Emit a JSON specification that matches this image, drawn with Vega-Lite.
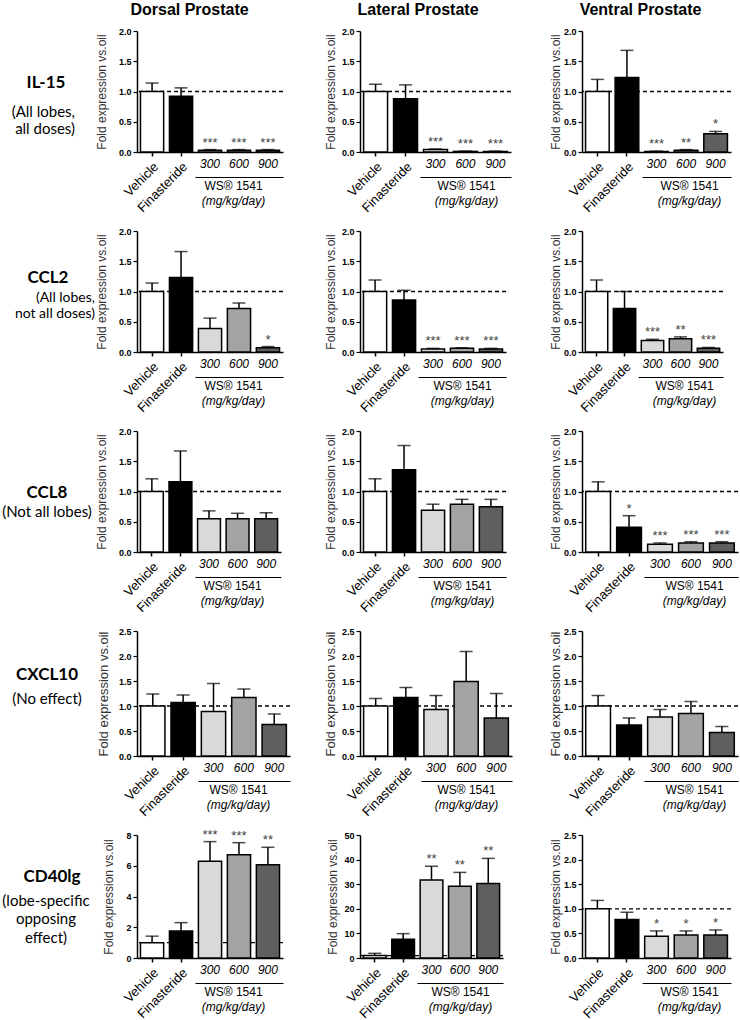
{
"$schema":"https://vega.github.io/schema/vega-lite/v6.json",
"padding":{"left":2,"top":2,"right":2,"bottom":2},
"config":{"view":{"stroke":null},"axis":{"labelFont":"Liberation Sans","titleFont":"Liberation Sans","labelColor":"black","domainColor":"black","tickColor":"black","grid":false},"text":{"font":"Liberation Sans"}},
"datasets":{
"ref":[{"v":1}],
"labels":[
{"gene":"IL-15","desc":"(All lobes,\nall doses)"},
{"gene":"CCL2","desc":"(All lobes,\nnot all doses)"},
{"gene":"CCL8","desc":"(Not all lobes)"},
{"gene":"CXCL10","desc":"(No effect)"},
{"gene":"CD40lg","desc":"(lobe-specific\nopposing\neffect)"}],
"d":[
{"gene":"IL-15","lobe":"Dorsal","group":"Vehicle","mean":1.0,"hi":1.14,"sig":""},
{"gene":"IL-15","lobe":"Dorsal","group":"Finasteride","mean":0.92,"hi":1.06,"sig":""},
{"gene":"IL-15","lobe":"Dorsal","group":"300","mean":0.03,"hi":0.04,"sig":"***"},
{"gene":"IL-15","lobe":"Dorsal","group":"600","mean":0.03,"hi":0.04,"sig":"***"},
{"gene":"IL-15","lobe":"Dorsal","group":"900","mean":0.03,"hi":0.04,"sig":"***"},
{"gene":"IL-15","lobe":"Lateral","group":"Vehicle","mean":1.0,"hi":1.12,"sig":""},
{"gene":"IL-15","lobe":"Lateral","group":"Finasteride","mean":0.88,"hi":1.11,"sig":""},
{"gene":"IL-15","lobe":"Lateral","group":"300","mean":0.04,"hi":0.05,"sig":"***"},
{"gene":"IL-15","lobe":"Lateral","group":"600","mean":0.01,"hi":0.015,"sig":"***"},
{"gene":"IL-15","lobe":"Lateral","group":"900","mean":0.01,"hi":0.015,"sig":"***"},
{"gene":"IL-15","lobe":"Ventral","group":"Vehicle","mean":1.0,"hi":1.2,"sig":""},
{"gene":"IL-15","lobe":"Ventral","group":"Finasteride","mean":1.23,"hi":1.68,"sig":""},
{"gene":"IL-15","lobe":"Ventral","group":"300","mean":0.01,"hi":0.015,"sig":"***"},
{"gene":"IL-15","lobe":"Ventral","group":"600","mean":0.03,"hi":0.04,"sig":"**"},
{"gene":"IL-15","lobe":"Ventral","group":"900","mean":0.3,"hi":0.34,"sig":"*"},
{"gene":"CCL2","lobe":"Dorsal","group":"Vehicle","mean":1.0,"hi":1.14,"sig":""},
{"gene":"CCL2","lobe":"Dorsal","group":"Finasteride","mean":1.23,"hi":1.66,"sig":""},
{"gene":"CCL2","lobe":"Dorsal","group":"300","mean":0.39,"hi":0.56,"sig":""},
{"gene":"CCL2","lobe":"Dorsal","group":"600","mean":0.72,"hi":0.81,"sig":""},
{"gene":"CCL2","lobe":"Dorsal","group":"900","mean":0.07,"hi":0.09,"sig":"*"},
{"gene":"CCL2","lobe":"Lateral","group":"Vehicle","mean":1.0,"hi":1.19,"sig":""},
{"gene":"CCL2","lobe":"Lateral","group":"Finasteride","mean":0.86,"hi":1.02,"sig":""},
{"gene":"CCL2","lobe":"Lateral","group":"300","mean":0.05,"hi":0.06,"sig":"***"},
{"gene":"CCL2","lobe":"Lateral","group":"600","mean":0.06,"hi":0.07,"sig":"***"},
{"gene":"CCL2","lobe":"Lateral","group":"900","mean":0.05,"hi":0.06,"sig":"***"},
{"gene":"CCL2","lobe":"Ventral","group":"Vehicle","mean":1.0,"hi":1.19,"sig":""},
{"gene":"CCL2","lobe":"Ventral","group":"Finasteride","mean":0.72,"hi":1.0,"sig":""},
{"gene":"CCL2","lobe":"Ventral","group":"300","mean":0.19,"hi":0.21,"sig":"***"},
{"gene":"CCL2","lobe":"Ventral","group":"600","mean":0.22,"hi":0.25,"sig":"**"},
{"gene":"CCL2","lobe":"Ventral","group":"900","mean":0.06,"hi":0.075,"sig":"***"},
{"gene":"CCL8","lobe":"Dorsal","group":"Vehicle","mean":1.0,"hi":1.21,"sig":""},
{"gene":"CCL8","lobe":"Dorsal","group":"Finasteride","mean":1.16,"hi":1.67,"sig":""},
{"gene":"CCL8","lobe":"Dorsal","group":"300","mean":0.55,"hi":0.68,"sig":""},
{"gene":"CCL8","lobe":"Dorsal","group":"600","mean":0.55,"hi":0.64,"sig":""},
{"gene":"CCL8","lobe":"Dorsal","group":"900","mean":0.55,"hi":0.65,"sig":""},
{"gene":"CCL8","lobe":"Lateral","group":"Vehicle","mean":1.0,"hi":1.21,"sig":""},
{"gene":"CCL8","lobe":"Lateral","group":"Finasteride","mean":1.36,"hi":1.76,"sig":""},
{"gene":"CCL8","lobe":"Lateral","group":"300","mean":0.69,"hi":0.79,"sig":""},
{"gene":"CCL8","lobe":"Lateral","group":"600","mean":0.79,"hi":0.87,"sig":""},
{"gene":"CCL8","lobe":"Lateral","group":"900","mean":0.75,"hi":0.87,"sig":""},
{"gene":"CCL8","lobe":"Ventral","group":"Vehicle","mean":1.0,"hi":1.16,"sig":""},
{"gene":"CCL8","lobe":"Ventral","group":"Finasteride","mean":0.41,"hi":0.6,"sig":"*"},
{"gene":"CCL8","lobe":"Ventral","group":"300","mean":0.13,"hi":0.15,"sig":"***"},
{"gene":"CCL8","lobe":"Ventral","group":"600","mean":0.15,"hi":0.17,"sig":"***"},
{"gene":"CCL8","lobe":"Ventral","group":"900","mean":0.15,"hi":0.17,"sig":"***"},
{"gene":"CXCL10","lobe":"Dorsal","group":"Vehicle","mean":1.0,"hi":1.24,"sig":""},
{"gene":"CXCL10","lobe":"Dorsal","group":"Finasteride","mean":1.07,"hi":1.22,"sig":""},
{"gene":"CXCL10","lobe":"Dorsal","group":"300","mean":0.89,"hi":1.45,"sig":""},
{"gene":"CXCL10","lobe":"Dorsal","group":"600","mean":1.17,"hi":1.34,"sig":""},
{"gene":"CXCL10","lobe":"Dorsal","group":"900","mean":0.63,"hi":0.84,"sig":""},
{"gene":"CXCL10","lobe":"Lateral","group":"Vehicle","mean":1.0,"hi":1.15,"sig":""},
{"gene":"CXCL10","lobe":"Lateral","group":"Finasteride","mean":1.17,"hi":1.37,"sig":""},
{"gene":"CXCL10","lobe":"Lateral","group":"300","mean":0.93,"hi":1.21,"sig":""},
{"gene":"CXCL10","lobe":"Lateral","group":"600","mean":1.49,"hi":2.09,"sig":""},
{"gene":"CXCL10","lobe":"Lateral","group":"900","mean":0.76,"hi":1.25,"sig":""},
{"gene":"CXCL10","lobe":"Ventral","group":"Vehicle","mean":1.0,"hi":1.21,"sig":""},
{"gene":"CXCL10","lobe":"Ventral","group":"Finasteride","mean":0.62,"hi":0.76,"sig":""},
{"gene":"CXCL10","lobe":"Ventral","group":"300","mean":0.78,"hi":0.93,"sig":""},
{"gene":"CXCL10","lobe":"Ventral","group":"600","mean":0.85,"hi":1.09,"sig":""},
{"gene":"CXCL10","lobe":"Ventral","group":"900","mean":0.47,"hi":0.59,"sig":""},
{"gene":"CD40lg","lobe":"Dorsal","group":"Vehicle","mean":1.0,"hi":1.42,"sig":""},
{"gene":"CD40lg","lobe":"Dorsal","group":"Finasteride","mean":1.75,"hi":2.3,"sig":""},
{"gene":"CD40lg","lobe":"Dorsal","group":"300","mean":6.29,"hi":7.57,"sig":"***"},
{"gene":"CD40lg","lobe":"Dorsal","group":"600","mean":6.72,"hi":7.5,"sig":"***"},
{"gene":"CD40lg","lobe":"Dorsal","group":"900","mean":6.06,"hi":7.2,"sig":"**"},
{"gene":"CD40lg","lobe":"Lateral","group":"Vehicle","mean":1.0,"hi":1.9,"sig":""},
{"gene":"CD40lg","lobe":"Lateral","group":"Finasteride","mean":7.6,"hi":9.9,"sig":""},
{"gene":"CD40lg","lobe":"Lateral","group":"300","mean":31.7,"hi":37.3,"sig":"**"},
{"gene":"CD40lg","lobe":"Lateral","group":"600","mean":29.2,"hi":34.8,"sig":"**"},
{"gene":"CD40lg","lobe":"Lateral","group":"900","mean":30.3,"hi":40.5,"sig":"**"},
{"gene":"CD40lg","lobe":"Ventral","group":"Vehicle","mean":1.0,"hi":1.17,"sig":""},
{"gene":"CD40lg","lobe":"Ventral","group":"Finasteride","mean":0.78,"hi":0.93,"sig":""},
{"gene":"CD40lg","lobe":"Ventral","group":"300","mean":0.44,"hi":0.55,"sig":"*"},
{"gene":"CD40lg","lobe":"Ventral","group":"600","mean":0.47,"hi":0.55,"sig":"*"},
{"gene":"CD40lg","lobe":"Ventral","group":"900","mean":0.47,"hi":0.57,"sig":"*"}
]},
"columns":4,
"spacing":{"row":79,"column":70},
"bounds":"flush",
"align":"each",
"concat":[
{"width":64,"height":121,"data":{"name":"labels"},"transform":[{"filter":"datum.gene=='IL-15'"}],"layer":[
 {"mark":{"type":"text","font":"Lato","fontSize":17,"fontWeight":"bold","baseline":"middle","dx":11,"dy":-9},"encoding":{"text":{"field":"gene"}}},
 {"mark":{"type":"text","font":"Lato","fontSize":15,"align":"right","baseline":"top","lineBreak":"\n","lineHeight":17,"dx":40,"dy":13},"encoding":{"text":{"field":"desc"}}}]},
{"width":146,"height":121,"title":{"text":"Dorsal Prostate","fontSize":16,"fontWeight":"bold","font":"Liberation Sans","frame":"bounds","anchor":"middle","offset":9,"color":"black"},
 "data":{"name":"d"},"transform":[{"filter":"datum.gene=='IL-15' && datum.lobe=='Dorsal'"}],"resolve":{"axis":{"x":"independent","y":"independent"}},
 "layer":[
 {"data":{"name":"ref"},"mark":{"type":"rule","strokeDash":[4,3],"strokeWidth":1.3,"color":"black"},"encoding":{"y":{"field":"v","type":"quantitative","axis":null}}},
 {"mark":{"type":"bar","stroke":"black","strokeWidth":1.5},"encoding":{
  "x":{"field":"group","type":"nominal","scale":{"domain":["Vehicle","Finasteride","300","600","900"],"paddingInner":0.2,"paddingOuter":0.12},"axis":{"orient":"bottom","title":null,"labelAngle":-45,"labelFontSize":13,"labelPadding":4,"labelExpr":"datum.value=='Vehicle'||datum.value=='Finasteride' ? datum.label : ''","tickSize":4,"tickWidth":1.5,"tickColor":{"condition":{"test":"datum.value=='Vehicle'||datum.value=='Finasteride'","value":"black"},"value":"transparent"},"domainWidth":1.5}},
  "y":{"field":"mean","type":"quantitative","scale":{"domain":[0,2],"nice":false},"axis":{"orient":"left","values":[0,0.5,1,1.5,2],"format":".1f","labelFontSize":9,"labelFontWeight":"bold","labelPadding":2,"tickSize":4,"tickWidth":1.2,"domainWidth":1.5,"title":"Fold expression vs.oil","titleFontSize":12,"titleFontWeight":"normal","titleColor":"#333333","titlePadding":10}},
  "color":{"field":"group","type":"nominal","scale":{"domain":["Vehicle","Finasteride","300","600","900"],"range":["#ffffff","#000000","#d9d9d9","#a3a3a3","#5f5f5f"]},"legend":null}}},
 {"mark":{"type":"rule","strokeWidth":1.5,"color":"black"},"encoding":{"x":{"field":"group","type":"nominal","axis":{"orient":"bottom","title":null,"domain":false,"ticks":false,"labelAngle":0,"labelFontStyle":"italic","labelFontSize":12,"labelPadding":6,"labelBaseline":"top","labelExpr":"datum.value=='Vehicle'||datum.value=='Finasteride' ? '' : datum.label"}},"y":{"field":"mean","type":"quantitative","axis":null},"y2":{"field":"hi"}}},
 {"mark":{"type":"tick","size":13,"thickness":1.5,"color":"black"},"encoding":{"x":{"field":"group","type":"nominal","axis":{"orient":"bottom","offset":25,"labels":false,"ticks":false,"domain":true,"domainWidth":1.2,"domainDash":[0,58,2000,0],"title":"WS® 1541","titleFontSize":12,"titleFontWeight":"normal","titleX":96,"titleAlign":"center","titlePadding":3}},"y":{"field":"hi","type":"quantitative","axis":null}}},
 {"mark":{"type":"text","baseline":"alphabetic","dy":-3,"fontSize":13,"color":"#444444"},"encoding":{"x":{"field":"group","type":"nominal","axis":{"orient":"bottom","offset":43,"labels":false,"ticks":false,"domain":false,"title":"(mg/kg/day)","titleFontSize":12,"titleFontStyle":"italic","titleFontWeight":"normal","titleX":96,"titleAlign":"center","titlePadding":0}},"y":{"field":"hi","type":"quantitative","axis":null},"text":{"field":"sig"}}}]},
{"width":151,"height":121,"title":{"text":"Lateral Prostate","fontSize":16,"fontWeight":"bold","font":"Liberation Sans","frame":"bounds","anchor":"middle","offset":9,"color":"black"},
 "data":{"name":"d"},"transform":[{"filter":"datum.gene=='IL-15' && datum.lobe=='Lateral'"}],"resolve":{"axis":{"x":"independent","y":"independent"}},
 "layer":[
 {"data":{"name":"ref"},"mark":{"type":"rule","strokeDash":[4,3],"strokeWidth":1.3,"color":"black"},"encoding":{"y":{"field":"v","type":"quantitative","axis":null}}},
 {"mark":{"type":"bar","stroke":"black","strokeWidth":1.5},"encoding":{
  "x":{"field":"group","type":"nominal","scale":{"domain":["Vehicle","Finasteride","300","600","900"],"paddingInner":0.2,"paddingOuter":0.12},"axis":{"orient":"bottom","title":null,"labelAngle":-45,"labelFontSize":13,"labelPadding":4,"labelExpr":"datum.value=='Vehicle'||datum.value=='Finasteride' ? datum.label : ''","tickSize":4,"tickWidth":1.5,"tickColor":{"condition":{"test":"datum.value=='Vehicle'||datum.value=='Finasteride'","value":"black"},"value":"transparent"},"domainWidth":1.5}},
  "y":{"field":"mean","type":"quantitative","scale":{"domain":[0,2],"nice":false},"axis":{"orient":"left","values":[0,0.5,1,1.5,2],"format":".1f","labelFontSize":9,"labelFontWeight":"bold","labelPadding":2,"tickSize":4,"tickWidth":1.2,"domainWidth":1.5,"title":"Fold expression vs.oil","titleFontSize":12,"titleFontWeight":"normal","titleColor":"#333333","titlePadding":4}},
  "color":{"field":"group","type":"nominal","scale":{"domain":["Vehicle","Finasteride","300","600","900"],"range":["#ffffff","#000000","#d9d9d9","#a3a3a3","#5f5f5f"]},"legend":null}}},
 {"mark":{"type":"rule","strokeWidth":1.5,"color":"black"},"encoding":{"x":{"field":"group","type":"nominal","axis":{"orient":"bottom","title":null,"domain":false,"ticks":false,"labelAngle":0,"labelFontStyle":"italic","labelFontSize":12,"labelPadding":6,"labelBaseline":"top","labelExpr":"datum.value=='Vehicle'||datum.value=='Finasteride' ? '' : datum.label"}},"y":{"field":"mean","type":"quantitative","axis":null},"y2":{"field":"hi"}}},
 {"mark":{"type":"tick","size":13,"thickness":1.5,"color":"black"},"encoding":{"x":{"field":"group","type":"nominal","axis":{"orient":"bottom","offset":25,"labels":false,"ticks":false,"domain":true,"domainWidth":1.2,"domainDash":[0,60,2000,0],"title":"WS® 1541","titleFontSize":12,"titleFontWeight":"normal","titleX":106,"titleAlign":"center","titlePadding":3}},"y":{"field":"hi","type":"quantitative","axis":null}}},
 {"mark":{"type":"text","baseline":"alphabetic","dy":-3,"fontSize":13,"color":"#444444"},"encoding":{"x":{"field":"group","type":"nominal","axis":{"orient":"bottom","offset":43,"labels":false,"ticks":false,"domain":false,"title":"(mg/kg/day)","titleFontSize":12,"titleFontStyle":"italic","titleFontWeight":"normal","titleX":106,"titleAlign":"center","titlePadding":0}},"y":{"field":"hi","type":"quantitative","axis":null},"text":{"field":"sig"}}}]},
{"width":149,"height":121,"title":{"text":"Ventral Prostate","fontSize":16,"fontWeight":"bold","font":"Liberation Sans","frame":"bounds","anchor":"middle","offset":9,"color":"black"},
 "data":{"name":"d"},"transform":[{"filter":"datum.gene=='IL-15' && datum.lobe=='Ventral'"}],"resolve":{"axis":{"x":"independent","y":"independent"}},
 "layer":[
 {"data":{"name":"ref"},"mark":{"type":"rule","strokeDash":[4,3],"strokeWidth":1.3,"color":"black"},"encoding":{"y":{"field":"v","type":"quantitative","axis":null}}},
 {"mark":{"type":"bar","stroke":"black","strokeWidth":1.5},"encoding":{
  "x":{"field":"group","type":"nominal","scale":{"domain":["Vehicle","Finasteride","300","600","900"],"paddingInner":0.2,"paddingOuter":0.12},"axis":{"orient":"bottom","title":null,"labelAngle":-45,"labelFontSize":13,"labelPadding":4,"labelExpr":"datum.value=='Vehicle'||datum.value=='Finasteride' ? datum.label : ''","tickSize":4,"tickWidth":1.5,"tickColor":{"condition":{"test":"datum.value=='Vehicle'||datum.value=='Finasteride'","value":"black"},"value":"transparent"},"domainWidth":1.5}},
  "y":{"field":"mean","type":"quantitative","scale":{"domain":[0,2],"nice":false},"axis":{"orient":"left","values":[0,0.5,1,1.5,2],"format":".1f","labelFontSize":9,"labelFontWeight":"bold","labelPadding":2,"tickSize":4,"tickWidth":1.2,"domainWidth":1.5,"title":"Fold expression vs.oil","titleFontSize":12,"titleFontWeight":"normal","titleColor":"#333333","titlePadding":1}},
  "color":{"field":"group","type":"nominal","scale":{"domain":["Vehicle","Finasteride","300","600","900"],"range":["#ffffff","#000000","#d9d9d9","#a3a3a3","#5f5f5f"]},"legend":null}}},
 {"mark":{"type":"rule","strokeWidth":1.5,"color":"black"},"encoding":{"x":{"field":"group","type":"nominal","axis":{"orient":"bottom","title":null,"domain":false,"ticks":false,"labelAngle":0,"labelFontStyle":"italic","labelFontSize":12,"labelPadding":6,"labelBaseline":"top","labelExpr":"datum.value=='Vehicle'||datum.value=='Finasteride' ? '' : datum.label"}},"y":{"field":"mean","type":"quantitative","axis":null},"y2":{"field":"hi"}}},
 {"mark":{"type":"tick","size":13,"thickness":1.5,"color":"black"},"encoding":{"x":{"field":"group","type":"nominal","axis":{"orient":"bottom","offset":25,"labels":false,"ticks":false,"domain":true,"domainWidth":1.2,"domainDash":[0,60,2000,0],"title":"WS® 1541","titleFontSize":12,"titleFontWeight":"normal","titleX":107,"titleAlign":"center","titlePadding":3}},"y":{"field":"hi","type":"quantitative","axis":null}}},
 {"mark":{"type":"text","baseline":"alphabetic","dy":-3,"fontSize":13,"color":"#444444"},"encoding":{"x":{"field":"group","type":"nominal","axis":{"orient":"bottom","offset":43,"labels":false,"ticks":false,"domain":false,"title":"(mg/kg/day)","titleFontSize":12,"titleFontStyle":"italic","titleFontWeight":"normal","titleX":107,"titleAlign":"center","titlePadding":0}},"y":{"field":"hi","type":"quantitative","axis":null},"text":{"field":"sig"}}}]},

{"width":64,"height":121,"data":{"name":"labels"},"transform":[{"filter":"datum.gene=='CCL2'"}],"layer":[
 {"mark":{"type":"text","font":"Lato","fontSize":17,"fontWeight":"bold","baseline":"middle","dx":13,"dy":-14},"encoding":{"text":{"field":"gene"}}},
 {"mark":{"type":"text","font":"Lato","fontSize":14,"align":"right","baseline":"top","lineBreak":"\n","lineHeight":16.5,"dx":60,"dy":-1},"encoding":{"text":{"field":"desc"}}}]},
{"width":146,"height":121,
 "data":{"name":"d"},"transform":[{"filter":"datum.gene=='CCL2' && datum.lobe=='Dorsal'"}],"resolve":{"axis":{"x":"independent","y":"independent"}},
 "layer":[
 {"data":{"name":"ref"},"mark":{"type":"rule","strokeDash":[4,3],"strokeWidth":1.3,"color":"black"},"encoding":{"y":{"field":"v","type":"quantitative","axis":null}}},
 {"mark":{"type":"bar","stroke":"black","strokeWidth":1.5},"encoding":{
  "x":{"field":"group","type":"nominal","scale":{"domain":["Vehicle","Finasteride","300","600","900"],"paddingInner":0.2,"paddingOuter":0.12},"axis":{"orient":"bottom","title":null,"labelAngle":-45,"labelFontSize":13,"labelPadding":4,"labelExpr":"datum.value=='Vehicle'||datum.value=='Finasteride' ? datum.label : ''","tickSize":4,"tickWidth":1.5,"tickColor":{"condition":{"test":"datum.value=='Vehicle'||datum.value=='Finasteride'","value":"black"},"value":"transparent"},"domainWidth":1.5}},
  "y":{"field":"mean","type":"quantitative","scale":{"domain":[0,2],"nice":false},"axis":{"orient":"left","values":[0,0.5,1,1.5,2],"format":".1f","labelFontSize":9,"labelFontWeight":"bold","labelPadding":2,"tickSize":4,"tickWidth":1.2,"domainWidth":1.5,"title":"Fold expression vs.oil","titleFontSize":12,"titleFontWeight":"normal","titleColor":"#333333","titlePadding":10}},
  "color":{"field":"group","type":"nominal","scale":{"domain":["Vehicle","Finasteride","300","600","900"],"range":["#ffffff","#000000","#d9d9d9","#a3a3a3","#5f5f5f"]},"legend":null}}},
 {"mark":{"type":"rule","strokeWidth":1.5,"color":"black"},"encoding":{"x":{"field":"group","type":"nominal","axis":{"orient":"bottom","title":null,"domain":false,"ticks":false,"labelAngle":0,"labelFontStyle":"italic","labelFontSize":12,"labelPadding":6,"labelBaseline":"top","labelExpr":"datum.value=='Vehicle'||datum.value=='Finasteride' ? '' : datum.label"}},"y":{"field":"mean","type":"quantitative","axis":null},"y2":{"field":"hi"}}},
 {"mark":{"type":"tick","size":13,"thickness":1.5,"color":"black"},"encoding":{"x":{"field":"group","type":"nominal","axis":{"orient":"bottom","offset":25,"labels":false,"ticks":false,"domain":true,"domainWidth":1.2,"domainDash":[0,58,2000,0],"title":"WS® 1541","titleFontSize":12,"titleFontWeight":"normal","titleX":96,"titleAlign":"center","titlePadding":3}},"y":{"field":"hi","type":"quantitative","axis":null}}},
 {"mark":{"type":"text","baseline":"alphabetic","dy":-3,"fontSize":13,"color":"#444444"},"encoding":{"x":{"field":"group","type":"nominal","axis":{"orient":"bottom","offset":43,"labels":false,"ticks":false,"domain":false,"title":"(mg/kg/day)","titleFontSize":12,"titleFontStyle":"italic","titleFontWeight":"normal","titleX":96,"titleAlign":"center","titlePadding":0}},"y":{"field":"hi","type":"quantitative","axis":null},"text":{"field":"sig"}}}]},
{"width":146,"height":121,
 "data":{"name":"d"},"transform":[{"filter":"datum.gene=='CCL2' && datum.lobe=='Lateral'"}],"resolve":{"axis":{"x":"independent","y":"independent"}},
 "layer":[
 {"data":{"name":"ref"},"mark":{"type":"rule","strokeDash":[4,3],"strokeWidth":1.3,"color":"black"},"encoding":{"y":{"field":"v","type":"quantitative","axis":null}}},
 {"mark":{"type":"bar","stroke":"black","strokeWidth":1.5},"encoding":{
  "x":{"field":"group","type":"nominal","scale":{"domain":["Vehicle","Finasteride","300","600","900"],"paddingInner":0.2,"paddingOuter":0.12},"axis":{"orient":"bottom","title":null,"labelAngle":-45,"labelFontSize":13,"labelPadding":4,"labelExpr":"datum.value=='Vehicle'||datum.value=='Finasteride' ? datum.label : ''","tickSize":4,"tickWidth":1.5,"tickColor":{"condition":{"test":"datum.value=='Vehicle'||datum.value=='Finasteride'","value":"black"},"value":"transparent"},"domainWidth":1.5}},
  "y":{"field":"mean","type":"quantitative","scale":{"domain":[0,2],"nice":false},"axis":{"orient":"left","values":[0,0.5,1,1.5,2],"format":".1f","labelFontSize":9,"labelFontWeight":"bold","labelPadding":2,"tickSize":4,"tickWidth":1.2,"domainWidth":1.5,"title":"Fold expression vs.oil","titleFontSize":12,"titleFontWeight":"normal","titleColor":"#333333","titlePadding":4}},
  "color":{"field":"group","type":"nominal","scale":{"domain":["Vehicle","Finasteride","300","600","900"],"range":["#ffffff","#000000","#d9d9d9","#a3a3a3","#5f5f5f"]},"legend":null}}},
 {"mark":{"type":"rule","strokeWidth":1.5,"color":"black"},"encoding":{"x":{"field":"group","type":"nominal","axis":{"orient":"bottom","title":null,"domain":false,"ticks":false,"labelAngle":0,"labelFontStyle":"italic","labelFontSize":12,"labelPadding":6,"labelBaseline":"top","labelExpr":"datum.value=='Vehicle'||datum.value=='Finasteride' ? '' : datum.label"}},"y":{"field":"mean","type":"quantitative","axis":null},"y2":{"field":"hi"}}},
 {"mark":{"type":"tick","size":13,"thickness":1.5,"color":"black"},"encoding":{"x":{"field":"group","type":"nominal","axis":{"orient":"bottom","offset":25,"labels":false,"ticks":false,"domain":true,"domainWidth":1.2,"domainDash":[0,58,2000,0],"title":"WS® 1541","titleFontSize":12,"titleFontWeight":"normal","titleX":102,"titleAlign":"center","titlePadding":3}},"y":{"field":"hi","type":"quantitative","axis":null}}},
 {"mark":{"type":"text","baseline":"alphabetic","dy":-3,"fontSize":13,"color":"#444444"},"encoding":{"x":{"field":"group","type":"nominal","axis":{"orient":"bottom","offset":43,"labels":false,"ticks":false,"domain":false,"title":"(mg/kg/day)","titleFontSize":12,"titleFontStyle":"italic","titleFontWeight":"normal","titleX":102,"titleAlign":"center","titlePadding":0}},"y":{"field":"hi","type":"quantitative","axis":null},"text":{"field":"sig"}}}]},
{"width":141,"height":121,
 "data":{"name":"d"},"transform":[{"filter":"datum.gene=='CCL2' && datum.lobe=='Ventral'"}],"resolve":{"axis":{"x":"independent","y":"independent"}},
 "layer":[
 {"data":{"name":"ref"},"mark":{"type":"rule","strokeDash":[4,3],"strokeWidth":1.3,"color":"black"},"encoding":{"y":{"field":"v","type":"quantitative","axis":null}}},
 {"mark":{"type":"bar","stroke":"black","strokeWidth":1.5},"encoding":{
  "x":{"field":"group","type":"nominal","scale":{"domain":["Vehicle","Finasteride","300","600","900"],"paddingInner":0.2,"paddingOuter":0.12},"axis":{"orient":"bottom","title":null,"labelAngle":-45,"labelFontSize":13,"labelPadding":4,"labelExpr":"datum.value=='Vehicle'||datum.value=='Finasteride' ? datum.label : ''","tickSize":4,"tickWidth":1.5,"tickColor":{"condition":{"test":"datum.value=='Vehicle'||datum.value=='Finasteride'","value":"black"},"value":"transparent"},"domainWidth":1.5}},
  "y":{"field":"mean","type":"quantitative","scale":{"domain":[0,2],"nice":false},"axis":{"orient":"left","values":[0,0.5,1,1.5,2],"format":".1f","labelFontSize":9,"labelFontWeight":"bold","labelPadding":2,"tickSize":4,"tickWidth":1.2,"domainWidth":1.5,"title":"Fold expression vs.oil","titleFontSize":12,"titleFontWeight":"normal","titleColor":"#333333","titlePadding":1}},
  "color":{"field":"group","type":"nominal","scale":{"domain":["Vehicle","Finasteride","300","600","900"],"range":["#ffffff","#000000","#d9d9d9","#a3a3a3","#5f5f5f"]},"legend":null}}},
 {"mark":{"type":"rule","strokeWidth":1.5,"color":"black"},"encoding":{"x":{"field":"group","type":"nominal","axis":{"orient":"bottom","title":null,"domain":false,"ticks":false,"labelAngle":0,"labelFontStyle":"italic","labelFontSize":12,"labelPadding":6,"labelBaseline":"top","labelExpr":"datum.value=='Vehicle'||datum.value=='Finasteride' ? '' : datum.label"}},"y":{"field":"mean","type":"quantitative","axis":null},"y2":{"field":"hi"}}},
 {"mark":{"type":"tick","size":13,"thickness":1.5,"color":"black"},"encoding":{"x":{"field":"group","type":"nominal","axis":{"orient":"bottom","offset":25,"labels":false,"ticks":false,"domain":true,"domainWidth":1.2,"domainDash":[0,56,2000,0],"title":"WS® 1541","titleFontSize":12,"titleFontWeight":"normal","titleX":102,"titleAlign":"center","titlePadding":3}},"y":{"field":"hi","type":"quantitative","axis":null}}},
 {"mark":{"type":"text","baseline":"alphabetic","dy":-3,"fontSize":13,"color":"#444444"},"encoding":{"x":{"field":"group","type":"nominal","axis":{"orient":"bottom","offset":43,"labels":false,"ticks":false,"domain":false,"title":"(mg/kg/day)","titleFontSize":12,"titleFontStyle":"italic","titleFontWeight":"normal","titleX":102,"titleAlign":"center","titlePadding":0}},"y":{"field":"hi","type":"quantitative","axis":null},"text":{"field":"sig"}}}]},

{"width":64,"height":121,"data":{"name":"labels"},"transform":[{"filter":"datum.gene=='CCL8'"}],"layer":[
 {"mark":{"type":"text","font":"Lato","fontSize":17,"fontWeight":"bold","baseline":"middle","dx":12,"dy":1},"encoding":{"text":{"field":"gene"}}},
 {"mark":{"type":"text","font":"Lato","fontSize":15,"align":"center","baseline":"top","lineBreak":"\n","lineHeight":17,"dx":12,"dy":13},"encoding":{"text":{"field":"desc"}}}]},
{"width":144,"height":121,
 "data":{"name":"d"},"transform":[{"filter":"datum.gene=='CCL8' && datum.lobe=='Dorsal'"}],"resolve":{"axis":{"x":"independent","y":"independent"}},
 "layer":[
 {"data":{"name":"ref"},"mark":{"type":"rule","strokeDash":[4,3],"strokeWidth":1.3,"color":"black"},"encoding":{"y":{"field":"v","type":"quantitative","axis":null}}},
 {"mark":{"type":"bar","stroke":"black","strokeWidth":1.5},"encoding":{
  "x":{"field":"group","type":"nominal","scale":{"domain":["Vehicle","Finasteride","300","600","900"],"paddingInner":0.2,"paddingOuter":0.12},"axis":{"orient":"bottom","title":null,"labelAngle":-45,"labelFontSize":13,"labelPadding":4,"labelExpr":"datum.value=='Vehicle'||datum.value=='Finasteride' ? datum.label : ''","tickSize":4,"tickWidth":1.5,"tickColor":{"condition":{"test":"datum.value=='Vehicle'||datum.value=='Finasteride'","value":"black"},"value":"transparent"},"domainWidth":1.5}},
  "y":{"field":"mean","type":"quantitative","scale":{"domain":[0,2],"nice":false},"axis":{"orient":"left","values":[0,0.5,1,1.5,2],"format":".1f","labelFontSize":9,"labelFontWeight":"bold","labelPadding":2,"tickSize":4,"tickWidth":1.2,"domainWidth":1.5,"title":"Fold expression vs.oil","titleFontSize":12,"titleFontWeight":"normal","titleColor":"#333333","titlePadding":10}},
  "color":{"field":"group","type":"nominal","scale":{"domain":["Vehicle","Finasteride","300","600","900"],"range":["#ffffff","#000000","#d9d9d9","#a3a3a3","#5f5f5f"]},"legend":null}}},
 {"mark":{"type":"rule","strokeWidth":1.5,"color":"black"},"encoding":{"x":{"field":"group","type":"nominal","axis":{"orient":"bottom","title":null,"domain":false,"ticks":false,"labelAngle":0,"labelFontStyle":"italic","labelFontSize":12,"labelPadding":6,"labelBaseline":"top","labelExpr":"datum.value=='Vehicle'||datum.value=='Finasteride' ? '' : datum.label"}},"y":{"field":"mean","type":"quantitative","axis":null},"y2":{"field":"hi"}}},
 {"mark":{"type":"tick","size":13,"thickness":1.5,"color":"black"},"encoding":{"x":{"field":"group","type":"nominal","axis":{"orient":"bottom","offset":25,"labels":false,"ticks":false,"domain":true,"domainWidth":1.2,"domainDash":[0,58,2000,0],"title":"WS® 1541","titleFontSize":12,"titleFontWeight":"normal","titleX":95,"titleAlign":"center","titlePadding":3}},"y":{"field":"hi","type":"quantitative","axis":null}}},
 {"mark":{"type":"text","baseline":"alphabetic","dy":-3,"fontSize":13,"color":"#444444"},"encoding":{"x":{"field":"group","type":"nominal","axis":{"orient":"bottom","offset":43,"labels":false,"ticks":false,"domain":false,"title":"(mg/kg/day)","titleFontSize":12,"titleFontStyle":"italic","titleFontWeight":"normal","titleX":95,"titleAlign":"center","titlePadding":0}},"y":{"field":"hi","type":"quantitative","axis":null},"text":{"field":"sig"}}}]},
{"width":146,"height":121,
 "data":{"name":"d"},"transform":[{"filter":"datum.gene=='CCL8' && datum.lobe=='Lateral'"}],"resolve":{"axis":{"x":"independent","y":"independent"}},
 "layer":[
 {"data":{"name":"ref"},"mark":{"type":"rule","strokeDash":[4,3],"strokeWidth":1.3,"color":"black"},"encoding":{"y":{"field":"v","type":"quantitative","axis":null}}},
 {"mark":{"type":"bar","stroke":"black","strokeWidth":1.5},"encoding":{
  "x":{"field":"group","type":"nominal","scale":{"domain":["Vehicle","Finasteride","300","600","900"],"paddingInner":0.2,"paddingOuter":0.12},"axis":{"orient":"bottom","title":null,"labelAngle":-45,"labelFontSize":13,"labelPadding":4,"labelExpr":"datum.value=='Vehicle'||datum.value=='Finasteride' ? datum.label : ''","tickSize":4,"tickWidth":1.5,"tickColor":{"condition":{"test":"datum.value=='Vehicle'||datum.value=='Finasteride'","value":"black"},"value":"transparent"},"domainWidth":1.5}},
  "y":{"field":"mean","type":"quantitative","scale":{"domain":[0,2],"nice":false},"axis":{"orient":"left","values":[0,0.5,1,1.5,2],"format":".1f","labelFontSize":9,"labelFontWeight":"bold","labelPadding":2,"tickSize":4,"tickWidth":1.2,"domainWidth":1.5,"title":"Fold expression vs.oil","titleFontSize":12,"titleFontWeight":"normal","titleColor":"#333333","titlePadding":4}},
  "color":{"field":"group","type":"nominal","scale":{"domain":["Vehicle","Finasteride","300","600","900"],"range":["#ffffff","#000000","#d9d9d9","#a3a3a3","#5f5f5f"]},"legend":null}}},
 {"mark":{"type":"rule","strokeWidth":1.5,"color":"black"},"encoding":{"x":{"field":"group","type":"nominal","axis":{"orient":"bottom","title":null,"domain":false,"ticks":false,"labelAngle":0,"labelFontStyle":"italic","labelFontSize":12,"labelPadding":6,"labelBaseline":"top","labelExpr":"datum.value=='Vehicle'||datum.value=='Finasteride' ? '' : datum.label"}},"y":{"field":"mean","type":"quantitative","axis":null},"y2":{"field":"hi"}}},
 {"mark":{"type":"tick","size":13,"thickness":1.5,"color":"black"},"encoding":{"x":{"field":"group","type":"nominal","axis":{"orient":"bottom","offset":25,"labels":false,"ticks":false,"domain":true,"domainWidth":1.2,"domainDash":[0,58,2000,0],"title":"WS® 1541","titleFontSize":12,"titleFontWeight":"normal","titleX":102,"titleAlign":"center","titlePadding":3}},"y":{"field":"hi","type":"quantitative","axis":null}}},
 {"mark":{"type":"text","baseline":"alphabetic","dy":-3,"fontSize":13,"color":"#444444"},"encoding":{"x":{"field":"group","type":"nominal","axis":{"orient":"bottom","offset":43,"labels":false,"ticks":false,"domain":false,"title":"(mg/kg/day)","titleFontSize":12,"titleFontStyle":"italic","titleFontWeight":"normal","titleX":102,"titleAlign":"center","titlePadding":0}},"y":{"field":"hi","type":"quantitative","axis":null},"text":{"field":"sig"}}}]},
{"width":156,"height":121,
 "data":{"name":"d"},"transform":[{"filter":"datum.gene=='CCL8' && datum.lobe=='Ventral'"}],"resolve":{"axis":{"x":"independent","y":"independent"}},
 "layer":[
 {"data":{"name":"ref"},"mark":{"type":"rule","strokeDash":[4,3],"strokeWidth":1.3,"color":"black"},"encoding":{"y":{"field":"v","type":"quantitative","axis":null}}},
 {"mark":{"type":"bar","stroke":"black","strokeWidth":1.5},"encoding":{
  "x":{"field":"group","type":"nominal","scale":{"domain":["Vehicle","Finasteride","300","600","900"],"paddingInner":0.2,"paddingOuter":0.12},"axis":{"orient":"bottom","title":null,"labelAngle":-45,"labelFontSize":13,"labelPadding":4,"labelExpr":"datum.value=='Vehicle'||datum.value=='Finasteride' ? datum.label : ''","tickSize":4,"tickWidth":1.5,"tickColor":{"condition":{"test":"datum.value=='Vehicle'||datum.value=='Finasteride'","value":"black"},"value":"transparent"},"domainWidth":1.5}},
  "y":{"field":"mean","type":"quantitative","scale":{"domain":[0,2],"nice":false},"axis":{"orient":"left","values":[0,0.5,1,1.5,2],"format":".1f","labelFontSize":9,"labelFontWeight":"bold","labelPadding":2,"tickSize":4,"tickWidth":1.2,"domainWidth":1.5,"title":"Fold expression vs.oil","titleFontSize":12,"titleFontWeight":"normal","titleColor":"#333333","titlePadding":1}},
  "color":{"field":"group","type":"nominal","scale":{"domain":["Vehicle","Finasteride","300","600","900"],"range":["#ffffff","#000000","#d9d9d9","#a3a3a3","#5f5f5f"]},"legend":null}}},
 {"mark":{"type":"rule","strokeWidth":1.5,"color":"black"},"encoding":{"x":{"field":"group","type":"nominal","axis":{"orient":"bottom","title":null,"domain":false,"ticks":false,"labelAngle":0,"labelFontStyle":"italic","labelFontSize":12,"labelPadding":6,"labelBaseline":"top","labelExpr":"datum.value=='Vehicle'||datum.value=='Finasteride' ? '' : datum.label"}},"y":{"field":"mean","type":"quantitative","axis":null},"y2":{"field":"hi"}}},
 {"mark":{"type":"tick","size":13,"thickness":1.5,"color":"black"},"encoding":{"x":{"field":"group","type":"nominal","axis":{"orient":"bottom","offset":25,"labels":false,"ticks":false,"domain":true,"domainWidth":1.2,"domainDash":[0,62,2000,0],"title":"WS® 1541","titleFontSize":12,"titleFontWeight":"normal","titleX":112,"titleAlign":"center","titlePadding":3}},"y":{"field":"hi","type":"quantitative","axis":null}}},
 {"mark":{"type":"text","baseline":"alphabetic","dy":-3,"fontSize":13,"color":"#444444"},"encoding":{"x":{"field":"group","type":"nominal","axis":{"orient":"bottom","offset":43,"labels":false,"ticks":false,"domain":false,"title":"(mg/kg/day)","titleFontSize":12,"titleFontStyle":"italic","titleFontWeight":"normal","titleX":112,"titleAlign":"center","titlePadding":0}},"y":{"field":"hi","type":"quantitative","axis":null},"text":{"field":"sig"}}}]},

{"width":64,"height":125,"data":{"name":"labels"},"transform":[{"filter":"datum.gene=='CXCL10'"}],"layer":[
 {"mark":{"type":"text","font":"Lato","fontSize":17,"fontWeight":"bold","baseline":"middle","dx":12,"dy":-18.5},"encoding":{"text":{"field":"gene"}}},
 {"mark":{"type":"text","font":"Lato","fontSize":15,"align":"center","baseline":"top","lineBreak":"\n","lineHeight":17,"dx":12,"dy":-1.5},"encoding":{"text":{"field":"desc"}}}]},
{"width":153,"height":125,
 "data":{"name":"d"},"transform":[{"filter":"datum.gene=='CXCL10' && datum.lobe=='Dorsal'"}],"resolve":{"axis":{"x":"independent","y":"independent"}},
 "layer":[
 {"data":{"name":"ref"},"mark":{"type":"rule","strokeDash":[4,3],"strokeWidth":1.3,"color":"black"},"encoding":{"y":{"field":"v","type":"quantitative","axis":null}}},
 {"mark":{"type":"bar","stroke":"black","strokeWidth":1.5},"encoding":{
  "x":{"field":"group","type":"nominal","scale":{"domain":["Vehicle","Finasteride","300","600","900"],"paddingInner":0.2,"paddingOuter":0.12},"axis":{"orient":"bottom","title":null,"labelAngle":-45,"labelFontSize":13,"labelPadding":4,"labelExpr":"datum.value=='Vehicle'||datum.value=='Finasteride' ? datum.label : ''","tickSize":4,"tickWidth":1.5,"tickColor":{"condition":{"test":"datum.value=='Vehicle'||datum.value=='Finasteride'","value":"black"},"value":"transparent"},"domainWidth":1.5}},
  "y":{"field":"mean","type":"quantitative","scale":{"domain":[0,2.5],"nice":false},"axis":{"orient":"left","values":[0,0.5,1,1.5,2,2.5],"format":".1f","labelFontSize":9,"labelFontWeight":"bold","labelPadding":2,"tickSize":4,"tickWidth":1.2,"domainWidth":1.5,"title":"Fold expression vs.oil","titleFontSize":13,"titleFontWeight":"normal","titleColor":"#333333","titlePadding":8}},
  "color":{"field":"group","type":"nominal","scale":{"domain":["Vehicle","Finasteride","300","600","900"],"range":["#ffffff","#000000","#d9d9d9","#a3a3a3","#5f5f5f"]},"legend":null}}},
 {"mark":{"type":"rule","strokeWidth":1.5,"color":"black"},"encoding":{"x":{"field":"group","type":"nominal","axis":{"orient":"bottom","title":null,"domain":false,"ticks":false,"labelAngle":0,"labelFontStyle":"italic","labelFontSize":12,"labelPadding":6,"labelBaseline":"top","labelExpr":"datum.value=='Vehicle'||datum.value=='Finasteride' ? '' : datum.label"}},"y":{"field":"mean","type":"quantitative","axis":null},"y2":{"field":"hi"}}},
 {"mark":{"type":"tick","size":13,"thickness":1.5,"color":"black"},"encoding":{"x":{"field":"group","type":"nominal","axis":{"orient":"bottom","offset":25,"labels":false,"ticks":false,"domain":true,"domainWidth":1.2,"domainDash":[0,61,2000,0],"title":"WS® 1541","titleFontSize":12,"titleFontWeight":"normal","titleX":101,"titleAlign":"center","titlePadding":3}},"y":{"field":"hi","type":"quantitative","axis":null}}},
 {"mark":{"type":"text","baseline":"alphabetic","dy":-3,"fontSize":13,"color":"#444444"},"encoding":{"x":{"field":"group","type":"nominal","axis":{"orient":"bottom","offset":43,"labels":false,"ticks":false,"domain":false,"title":"(mg/kg/day)","titleFontSize":12,"titleFontStyle":"italic","titleFontWeight":"normal","titleX":101,"titleAlign":"center","titlePadding":0}},"y":{"field":"hi","type":"quantitative","axis":null},"text":{"field":"sig"}}}]},
{"width":152,"height":125,
 "data":{"name":"d"},"transform":[{"filter":"datum.gene=='CXCL10' && datum.lobe=='Lateral'"}],"resolve":{"axis":{"x":"independent","y":"independent"}},
 "layer":[
 {"data":{"name":"ref"},"mark":{"type":"rule","strokeDash":[4,3],"strokeWidth":1.3,"color":"black"},"encoding":{"y":{"field":"v","type":"quantitative","axis":null}}},
 {"mark":{"type":"bar","stroke":"black","strokeWidth":1.5},"encoding":{
  "x":{"field":"group","type":"nominal","scale":{"domain":["Vehicle","Finasteride","300","600","900"],"paddingInner":0.2,"paddingOuter":0.12},"axis":{"orient":"bottom","title":null,"labelAngle":-45,"labelFontSize":13,"labelPadding":4,"labelExpr":"datum.value=='Vehicle'||datum.value=='Finasteride' ? datum.label : ''","tickSize":4,"tickWidth":1.5,"tickColor":{"condition":{"test":"datum.value=='Vehicle'||datum.value=='Finasteride'","value":"black"},"value":"transparent"},"domainWidth":1.5}},
  "y":{"field":"mean","type":"quantitative","scale":{"domain":[0,2.5],"nice":false},"axis":{"orient":"left","values":[0,0.5,1,1.5,2,2.5],"format":".1f","labelFontSize":9,"labelFontWeight":"bold","labelPadding":2,"tickSize":4,"tickWidth":1.2,"domainWidth":1.5,"title":"Fold expression vs.oil","titleFontSize":13,"titleFontWeight":"normal","titleColor":"#333333","titlePadding":4}},
  "color":{"field":"group","type":"nominal","scale":{"domain":["Vehicle","Finasteride","300","600","900"],"range":["#ffffff","#000000","#d9d9d9","#a3a3a3","#5f5f5f"]},"legend":null}}},
 {"mark":{"type":"rule","strokeWidth":1.5,"color":"black"},"encoding":{"x":{"field":"group","type":"nominal","axis":{"orient":"bottom","title":null,"domain":false,"ticks":false,"labelAngle":0,"labelFontStyle":"italic","labelFontSize":12,"labelPadding":6,"labelBaseline":"top","labelExpr":"datum.value=='Vehicle'||datum.value=='Finasteride' ? '' : datum.label"}},"y":{"field":"mean","type":"quantitative","axis":null},"y2":{"field":"hi"}}},
 {"mark":{"type":"tick","size":13,"thickness":1.5,"color":"black"},"encoding":{"x":{"field":"group","type":"nominal","axis":{"orient":"bottom","offset":25,"labels":false,"ticks":false,"domain":true,"domainWidth":1.2,"domainDash":[0,61,2000,0],"title":"WS® 1541","titleFontSize":12,"titleFontWeight":"normal","titleX":106,"titleAlign":"center","titlePadding":3}},"y":{"field":"hi","type":"quantitative","axis":null}}},
 {"mark":{"type":"text","baseline":"alphabetic","dy":-3,"fontSize":13,"color":"#444444"},"encoding":{"x":{"field":"group","type":"nominal","axis":{"orient":"bottom","offset":43,"labels":false,"ticks":false,"domain":false,"title":"(mg/kg/day)","titleFontSize":12,"titleFontStyle":"italic","titleFontWeight":"normal","titleX":106,"titleAlign":"center","titlePadding":0}},"y":{"field":"hi","type":"quantitative","axis":null},"text":{"field":"sig"}}}]},
{"width":156,"height":125,
 "data":{"name":"d"},"transform":[{"filter":"datum.gene=='CXCL10' && datum.lobe=='Ventral'"}],"resolve":{"axis":{"x":"independent","y":"independent"}},
 "layer":[
 {"data":{"name":"ref"},"mark":{"type":"rule","strokeDash":[4,3],"strokeWidth":1.3,"color":"black"},"encoding":{"y":{"field":"v","type":"quantitative","axis":null}}},
 {"mark":{"type":"bar","stroke":"black","strokeWidth":1.5},"encoding":{
  "x":{"field":"group","type":"nominal","scale":{"domain":["Vehicle","Finasteride","300","600","900"],"paddingInner":0.2,"paddingOuter":0.12},"axis":{"orient":"bottom","title":null,"labelAngle":-45,"labelFontSize":13,"labelPadding":4,"labelExpr":"datum.value=='Vehicle'||datum.value=='Finasteride' ? datum.label : ''","tickSize":4,"tickWidth":1.5,"tickColor":{"condition":{"test":"datum.value=='Vehicle'||datum.value=='Finasteride'","value":"black"},"value":"transparent"},"domainWidth":1.5}},
  "y":{"field":"mean","type":"quantitative","scale":{"domain":[0,2.5],"nice":false},"axis":{"orient":"left","values":[0,0.5,1,1.5,2,2.5],"format":".1f","labelFontSize":9,"labelFontWeight":"bold","labelPadding":2,"tickSize":4,"tickWidth":1.2,"domainWidth":1.5,"title":"Fold expression vs.oil","titleFontSize":13,"titleFontWeight":"normal","titleColor":"#333333","titlePadding":1}},
  "color":{"field":"group","type":"nominal","scale":{"domain":["Vehicle","Finasteride","300","600","900"],"range":["#ffffff","#000000","#d9d9d9","#a3a3a3","#5f5f5f"]},"legend":null}}},
 {"mark":{"type":"rule","strokeWidth":1.5,"color":"black"},"encoding":{"x":{"field":"group","type":"nominal","axis":{"orient":"bottom","title":null,"domain":false,"ticks":false,"labelAngle":0,"labelFontStyle":"italic","labelFontSize":12,"labelPadding":6,"labelBaseline":"top","labelExpr":"datum.value=='Vehicle'||datum.value=='Finasteride' ? '' : datum.label"}},"y":{"field":"mean","type":"quantitative","axis":null},"y2":{"field":"hi"}}},
 {"mark":{"type":"tick","size":13,"thickness":1.5,"color":"black"},"encoding":{"x":{"field":"group","type":"nominal","axis":{"orient":"bottom","offset":25,"labels":false,"ticks":false,"domain":true,"domainWidth":1.2,"domainDash":[0,62,2000,0],"title":"WS® 1541","titleFontSize":12,"titleFontWeight":"normal","titleX":112,"titleAlign":"center","titlePadding":3}},"y":{"field":"hi","type":"quantitative","axis":null}}},
 {"mark":{"type":"text","baseline":"alphabetic","dy":-3,"fontSize":13,"color":"#444444"},"encoding":{"x":{"field":"group","type":"nominal","axis":{"orient":"bottom","offset":43,"labels":false,"ticks":false,"domain":false,"title":"(mg/kg/day)","titleFontSize":12,"titleFontStyle":"italic","titleFontWeight":"normal","titleX":112,"titleAlign":"center","titlePadding":0}},"y":{"field":"hi","type":"quantitative","axis":null},"text":{"field":"sig"}}}]},

{"width":64,"height":123,"data":{"name":"labels"},"transform":[{"filter":"datum.gene=='CD40lg'"}],"layer":[
 {"mark":{"type":"text","font":"Lato","fontSize":17,"fontWeight":"bold","baseline":"middle","dx":17,"dy":-19.5},"encoding":{"text":{"field":"gene"}}},
 {"mark":{"type":"text","font":"Lato","fontSize":15,"align":"center","baseline":"top","lineBreak":"\n","lineHeight":18.5,"dx":11,"dy":-3},"encoding":{"text":{"field":"desc"}}}]},
{"width":146,"height":123,
 "data":{"name":"d"},"transform":[{"filter":"datum.gene=='CD40lg' && datum.lobe=='Dorsal'"}],"resolve":{"axis":{"x":"independent","y":"independent"}},
 "layer":[
 {"data":{"name":"ref"},"mark":{"type":"rule","strokeDash":[4,3],"strokeWidth":1.3,"color":"black"},"encoding":{"y":{"field":"v","type":"quantitative","axis":null}}},
 {"mark":{"type":"bar","stroke":"black","strokeWidth":1.5},"encoding":{
  "x":{"field":"group","type":"nominal","scale":{"domain":["Vehicle","Finasteride","300","600","900"],"paddingInner":0.2,"paddingOuter":0.12},"axis":{"orient":"bottom","title":null,"labelAngle":-45,"labelFontSize":13,"labelPadding":4,"labelExpr":"datum.value=='Vehicle'||datum.value=='Finasteride' ? datum.label : ''","tickSize":4,"tickWidth":1.5,"tickColor":{"condition":{"test":"datum.value=='Vehicle'||datum.value=='Finasteride'","value":"black"},"value":"transparent"},"domainWidth":1.5}},
  "y":{"field":"mean","type":"quantitative","scale":{"domain":[0,8],"nice":false},"axis":{"orient":"left","values":[0,2,4,6,8],"format":"d","labelFontSize":9,"labelFontWeight":"bold","labelPadding":2,"tickSize":4,"tickWidth":1.2,"domainWidth":1.5,"title":"Fold expression vs.oil","titleFontSize":12,"titleFontWeight":"normal","titleColor":"#333333","titlePadding":10}},
  "color":{"field":"group","type":"nominal","scale":{"domain":["Vehicle","Finasteride","300","600","900"],"range":["#ffffff","#000000","#d9d9d9","#a3a3a3","#5f5f5f"]},"legend":null}}},
 {"mark":{"type":"rule","strokeWidth":1.5,"color":"black"},"encoding":{"x":{"field":"group","type":"nominal","axis":{"orient":"bottom","title":null,"domain":false,"ticks":false,"labelAngle":0,"labelFontStyle":"italic","labelFontSize":12,"labelPadding":6,"labelBaseline":"top","labelExpr":"datum.value=='Vehicle'||datum.value=='Finasteride' ? '' : datum.label"}},"y":{"field":"mean","type":"quantitative","axis":null},"y2":{"field":"hi"}}},
 {"mark":{"type":"tick","size":13,"thickness":1.5,"color":"black"},"encoding":{"x":{"field":"group","type":"nominal","axis":{"orient":"bottom","offset":25,"labels":false,"ticks":false,"domain":true,"domainWidth":1.2,"domainDash":[0,58,2000,0],"title":"WS® 1541","titleFontSize":12,"titleFontWeight":"normal","titleX":96,"titleAlign":"center","titlePadding":3}},"y":{"field":"hi","type":"quantitative","axis":null}}},
 {"mark":{"type":"text","baseline":"alphabetic","dy":-3,"fontSize":13,"color":"#444444"},"encoding":{"x":{"field":"group","type":"nominal","axis":{"orient":"bottom","offset":43,"labels":false,"ticks":false,"domain":false,"title":"(mg/kg/day)","titleFontSize":12,"titleFontStyle":"italic","titleFontWeight":"normal","titleX":96,"titleAlign":"center","titlePadding":0}},"y":{"field":"hi","type":"quantitative","axis":null},"text":{"field":"sig"}}}]},
{"width":143,"height":123,
 "data":{"name":"d"},"transform":[{"filter":"datum.gene=='CD40lg' && datum.lobe=='Lateral'"}],"resolve":{"axis":{"x":"independent","y":"independent"}},
 "layer":[
 {"data":{"name":"ref"},"mark":{"type":"rule","strokeDash":[4,3],"strokeWidth":1.3,"color":"black"},"encoding":{"y":{"field":"v","type":"quantitative","axis":null}}},
 {"mark":{"type":"bar","stroke":"black","strokeWidth":1.5},"encoding":{
  "x":{"field":"group","type":"nominal","scale":{"domain":["Vehicle","Finasteride","300","600","900"],"paddingInner":0.2,"paddingOuter":0.12},"axis":{"orient":"bottom","title":null,"labelAngle":-45,"labelFontSize":13,"labelPadding":4,"labelExpr":"datum.value=='Vehicle'||datum.value=='Finasteride' ? datum.label : ''","tickSize":4,"tickWidth":1.5,"tickColor":{"condition":{"test":"datum.value=='Vehicle'||datum.value=='Finasteride'","value":"black"},"value":"transparent"},"domainWidth":1.5}},
  "y":{"field":"mean","type":"quantitative","scale":{"domain":[0,50],"nice":false},"axis":{"orient":"left","values":[0,10,20,30,40,50],"format":"d","labelFontSize":9,"labelFontWeight":"bold","labelPadding":2,"tickSize":4,"tickWidth":1.2,"domainWidth":1.5,"title":"Fold expression vs.oil","titleFontSize":12,"titleFontWeight":"normal","titleColor":"#333333","titlePadding":4}},
  "color":{"field":"group","type":"nominal","scale":{"domain":["Vehicle","Finasteride","300","600","900"],"range":["#ffffff","#000000","#d9d9d9","#a3a3a3","#5f5f5f"]},"legend":null}}},
 {"mark":{"type":"rule","strokeWidth":1.5,"color":"black"},"encoding":{"x":{"field":"group","type":"nominal","axis":{"orient":"bottom","title":null,"domain":false,"ticks":false,"labelAngle":0,"labelFontStyle":"italic","labelFontSize":12,"labelPadding":6,"labelBaseline":"top","labelExpr":"datum.value=='Vehicle'||datum.value=='Finasteride' ? '' : datum.label"}},"y":{"field":"mean","type":"quantitative","axis":null},"y2":{"field":"hi"}}},
 {"mark":{"type":"tick","size":13,"thickness":1.5,"color":"black"},"encoding":{"x":{"field":"group","type":"nominal","axis":{"orient":"bottom","offset":25,"labels":false,"ticks":false,"domain":true,"domainWidth":1.2,"domainDash":[0,57,2000,0],"title":"WS® 1541","titleFontSize":12,"titleFontWeight":"normal","titleX":100,"titleAlign":"center","titlePadding":3}},"y":{"field":"hi","type":"quantitative","axis":null}}},
 {"mark":{"type":"text","baseline":"alphabetic","dy":-3,"fontSize":13,"color":"#444444"},"encoding":{"x":{"field":"group","type":"nominal","axis":{"orient":"bottom","offset":43,"labels":false,"ticks":false,"domain":false,"title":"(mg/kg/day)","titleFontSize":12,"titleFontStyle":"italic","titleFontWeight":"normal","titleX":100,"titleAlign":"center","titlePadding":0}},"y":{"field":"hi","type":"quantitative","axis":null},"text":{"field":"sig"}}}]},
{"width":149,"height":123,
 "data":{"name":"d"},"transform":[{"filter":"datum.gene=='CD40lg' && datum.lobe=='Ventral'"}],"resolve":{"axis":{"x":"independent","y":"independent"}},
 "layer":[
 {"data":{"name":"ref"},"mark":{"type":"rule","strokeDash":[4,3],"strokeWidth":1.3,"color":"black"},"encoding":{"y":{"field":"v","type":"quantitative","axis":null}}},
 {"mark":{"type":"bar","stroke":"black","strokeWidth":1.5},"encoding":{
  "x":{"field":"group","type":"nominal","scale":{"domain":["Vehicle","Finasteride","300","600","900"],"paddingInner":0.2,"paddingOuter":0.12},"axis":{"orient":"bottom","title":null,"labelAngle":-45,"labelFontSize":13,"labelPadding":4,"labelExpr":"datum.value=='Vehicle'||datum.value=='Finasteride' ? datum.label : ''","tickSize":4,"tickWidth":1.5,"tickColor":{"condition":{"test":"datum.value=='Vehicle'||datum.value=='Finasteride'","value":"black"},"value":"transparent"},"domainWidth":1.5}},
  "y":{"field":"mean","type":"quantitative","scale":{"domain":[0,2.5],"nice":false},"axis":{"orient":"left","values":[0,0.5,1,1.5,2,2.5],"format":".1f","labelFontSize":9,"labelFontWeight":"bold","labelPadding":2,"tickSize":4,"tickWidth":1.2,"domainWidth":1.5,"title":"Fold expression vs.oil","titleFontSize":12,"titleFontWeight":"normal","titleColor":"#333333","titlePadding":1}},
  "color":{"field":"group","type":"nominal","scale":{"domain":["Vehicle","Finasteride","300","600","900"],"range":["#ffffff","#000000","#d9d9d9","#a3a3a3","#5f5f5f"]},"legend":null}}},
 {"mark":{"type":"rule","strokeWidth":1.5,"color":"black"},"encoding":{"x":{"field":"group","type":"nominal","axis":{"orient":"bottom","title":null,"domain":false,"ticks":false,"labelAngle":0,"labelFontStyle":"italic","labelFontSize":12,"labelPadding":6,"labelBaseline":"top","labelExpr":"datum.value=='Vehicle'||datum.value=='Finasteride' ? '' : datum.label"}},"y":{"field":"mean","type":"quantitative","axis":null},"y2":{"field":"hi"}}},
 {"mark":{"type":"tick","size":13,"thickness":1.5,"color":"black"},"encoding":{"x":{"field":"group","type":"nominal","axis":{"orient":"bottom","offset":25,"labels":false,"ticks":false,"domain":true,"domainWidth":1.2,"domainDash":[0,60,2000,0],"title":"WS® 1541","titleFontSize":12,"titleFontWeight":"normal","titleX":107,"titleAlign":"center","titlePadding":3}},"y":{"field":"hi","type":"quantitative","axis":null}}},
 {"mark":{"type":"text","baseline":"alphabetic","dy":-3,"fontSize":13,"color":"#444444"},"encoding":{"x":{"field":"group","type":"nominal","axis":{"orient":"bottom","offset":43,"labels":false,"ticks":false,"domain":false,"title":"(mg/kg/day)","titleFontSize":12,"titleFontStyle":"italic","titleFontWeight":"normal","titleX":107,"titleAlign":"center","titlePadding":0}},"y":{"field":"hi","type":"quantitative","axis":null},"text":{"field":"sig"}}}]}
]
}
